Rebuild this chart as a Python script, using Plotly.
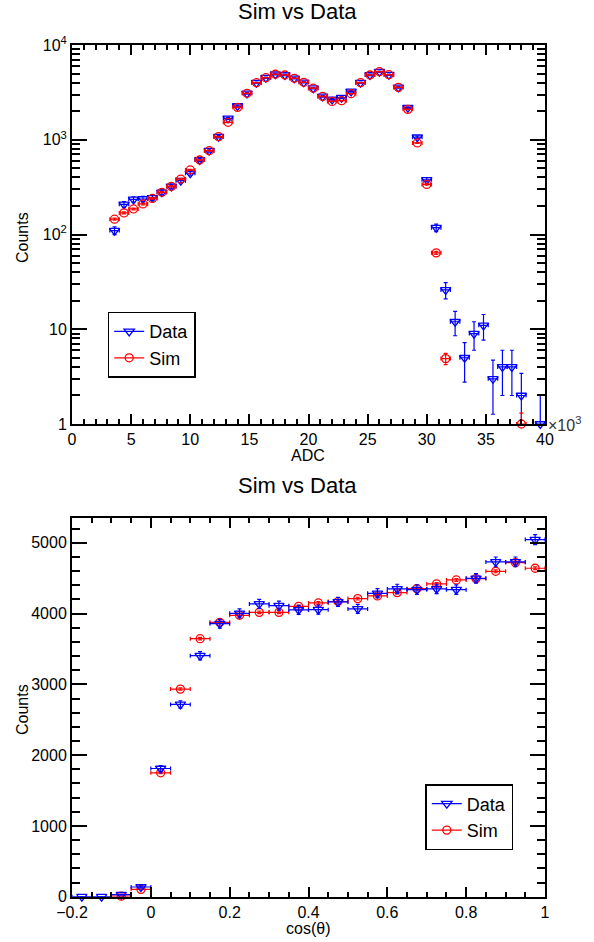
import numpy as np
import plotly.graph_objects as go

# ---------------- data ----------------
adc_centers = [3600, 4400, 5200, 6000, 6800, 7600, 8400, 9200, 10000, 10800,
               11600, 12400, 13200, 14000, 14800, 15600, 16400, 17200, 18000, 18800,
               19600, 20400, 21200, 22000, 22800, 23600, 24400, 25200, 26000, 26800,
               27600, 28400, 29200, 30000, 30800, 31600, 32400, 33200, 34000, 34800,
               35600, 36400, 37200, 38000, 38800, 39600]
adc_data = [110, 208, 235, 237, 244, 279, 322, 370, 443, 611,
            767, 1078, 1684, 2270, 3090, 4000, 4518, 4910, 4825, 4454,
            4040, 3500, 2866, 2670, 2780, 3245, 4000, 4825, 5224, 4857,
            3572, 2178, 1062, 378, 118, 26, 12, 5, 9, 11,
            3, 4, 4, 2, None, 1]
adc_sim = [145, 169, 186, 210, 240, 279, 322, 385, 480, 611,
           767, 1078, 1527, 2198, 3090, 4000, 4518, 4910, 4825, 4454,
           4040, 3500, 2866, 2540, 2583, 3062, 4000, 4825, 5224, 4857,
           3572, 2094, 925, 338, 64, 4.9, None, None, None, None,
           None, None, None, 1, None, None]
adc_halfbin = 400

cos_centers = [-0.175, -0.125, -0.075, -0.025, 0.025, 0.075, 0.125, 0.175,
               0.225, 0.275, 0.325, 0.375, 0.425, 0.475, 0.525, 0.575,
               0.625, 0.675, 0.725, 0.775, 0.825, 0.875, 0.925, 0.975]
cos_data = [0, 0, 30, 137, 1811, 2716, 3405, 3857, 4003, 4136, 4112, 4051,
            4055, 4164, 4065, 4286, 4348, 4338, 4348, 4338, 4498, 4730, 4730, 5045]
cos_sim = [None, None, 8, 104, 1750, 2933, 3645, 3876, 3975, 4017, 4017, 4102,
           4150, 4170, 4211, 4249, 4296, 4352, 4419, 4475, 4494, 4597, 4720, 4640]
cos_halfbin = 0.025
sim_weight = 0.09

x_ticks_adc = [0, 5000, 10000, 15000, 20000, 25000, 30000, 35000, 40000]
x_ticktext_adc = ['0', '5', '10', '15', '20', '25', '30', '35', '40']
y_ticks_log = [1, 10, 100, 1000, 10000]
y_ticktext_log = ['1', '10', '10<sup>2</sup>', '10<sup>3</sup>', '10<sup>4</sup>']


def data_err(vals):
    return [None if v is None else float(np.sqrt(v)) for v in vals]


def sim_err(vals):
    return [None if v is None else float(np.sqrt(v * sim_weight)) for v in vals]


BLUE = '#0000ff'
RED = '#ff0000'
FONT = 'Liberation Sans, Arial, sans-serif'
EW = 1.2   # error bar thickness
ML = 1.3   # marker outline width

fig = go.Figure()

# ---------- top panel ----------
fig.add_trace(go.Scatter(
    x=adc_centers, y=adc_data, mode='markers', xaxis='x', yaxis='y',
    marker=dict(symbol='triangle-down-open', size=9, color=BLUE, line=dict(width=ML, color=BLUE)),
    error_y=dict(type='data', array=data_err(adc_data), color=BLUE, thickness=EW, width=2),
    error_x=dict(type='constant', value=adc_halfbin, color=BLUE, thickness=EW, width=2),
    showlegend=False, cliponaxis=False))
fig.add_trace(go.Scatter(
    x=adc_centers, y=adc_sim, mode='markers', xaxis='x', yaxis='y',
    marker=dict(symbol='circle-open', size=8, color=RED, line=dict(width=ML, color=RED)),
    error_y=dict(type='data', array=sim_err(adc_sim), color=RED, thickness=EW, width=2),
    error_x=dict(type='constant', value=adc_halfbin, color=RED, thickness=EW, width=2),
    showlegend=False, cliponaxis=False))

# ---------- bottom panel ----------
fig.add_trace(go.Scatter(
    x=cos_centers, y=cos_sim, mode='markers', xaxis='x2', yaxis='y2',
    marker=dict(symbol='circle-open', size=8, color=RED, line=dict(width=ML, color=RED)),
    error_y=dict(type='data', array=sim_err(cos_sim), color=RED, thickness=EW, width=2),
    error_x=dict(type='constant', value=cos_halfbin, color=RED, thickness=EW, width=2),
    showlegend=False, cliponaxis=False))
fig.add_trace(go.Scatter(
    x=cos_centers, y=cos_data, mode='markers', xaxis='x2', yaxis='y2',
    marker=dict(symbol='triangle-down-open', size=9, color=BLUE, line=dict(width=ML, color=BLUE)),
    error_y=dict(type='data', array=data_err(cos_data), color=BLUE, thickness=EW, width=2),
    error_x=dict(type='constant', value=cos_halfbin, color=BLUE, thickness=EW, width=2),
    showlegend=False, cliponaxis=False))

# legend entries
for lg, xa, ya in [('legend', 'x', 'y'), ('legend2', 'x2', 'y2')]:
    fig.add_trace(go.Scatter(x=[None], y=[None], mode='lines+markers', name='Data',
                             xaxis=xa, yaxis=ya, legend=lg,
                             line=dict(color=BLUE, width=EW),
                             marker=dict(symbol='triangle-down-open', size=9, color=BLUE,
                                         line=dict(width=ML, color=BLUE))))
    fig.add_trace(go.Scatter(x=[None], y=[None], mode='lines+markers', name='Sim',
                             xaxis=xa, yaxis=ya, legend=lg,
                             line=dict(color=RED, width=EW),
                             marker=dict(symbol='circle-open', size=8, color=RED,
                                         line=dict(width=ML, color=RED))))

W, H = 594, 942
xd = [72 / W, 545 / W]
top_dom = [(H - 424) / H, (H - 45) / H]
bot_dom = [(H - 896.7) / H, (H - 518) / H]

axis_common = dict(showline=True, linecolor='black', linewidth=2, mirror='allticks',
                   ticks='inside', tickcolor='black', tickwidth=1.5, showgrid=False,
                   zeroline=False, automargin=False,
                   tickfont=dict(family=FONT, size=16, color='black'))

minor_log = [m * 10 ** e for e in range(0, 4) for m in range(2, 10)]

fig.update_layout(
    template='none',
    width=W, height=H, margin=dict(l=0, r=0, t=0, b=0, autoexpand=False),
    paper_bgcolor='white', plot_bgcolor='white',
    font=dict(family=FONT, color='black'),
    xaxis=dict(domain=xd, anchor='y', range=[0, 40000], tickmode='array',
               tickvals=x_ticks_adc, ticktext=x_ticktext_adc, ticklen=10,
               minor=dict(dtick=1000, tick0=0, ticks='inside', ticklen=5, tickwidth=1.5,
                          tickcolor='black', showgrid=False),
               **axis_common),
    yaxis=dict(domain=top_dom, anchor='x', type='log', range=[0, 4], tickmode='array',
               tickvals=y_ticks_log, ticktext=y_ticktext_log, ticklen=15,
               minor=dict(tickmode='array', tickvals=minor_log, ticks='inside', ticklen=8,
                          tickwidth=1.5, tickcolor='black', showgrid=False),
               **axis_common),
    xaxis2=dict(domain=xd, anchor='y2', range=[-0.2, 1.0], dtick=0.2, tick0=0, ticklen=10,
                tickformat='~g',
                minor=dict(dtick=0.05, tick0=0, ticks='inside', ticklen=5, tickwidth=1.5,
                           tickcolor='black', showgrid=False),
                **axis_common),
    yaxis2=dict(domain=bot_dom, anchor='x2', range=[0, 5350], dtick=1000, tick0=0, ticklen=15,
                minor=dict(dtick=200, tick0=0, ticks='inside', ticklen=8, tickwidth=1.5,
                           tickcolor='black', showgrid=False),
                **axis_common),
    legend=dict(x=107.7 / W, y=(H - 311.7) / H, xanchor='left', yanchor='top',
                bordercolor='black', borderwidth=1.5, bgcolor='white',
                font=dict(family=FONT, size=18, color='black'), itemwidth=30),
    legend2=dict(x=425.3 / W, y=(H - 784) / H, xanchor='left', yanchor='top',
                 bordercolor='black', borderwidth=1.5, bgcolor='white',
                 font=dict(family=FONT, size=18, color='black'), itemwidth=30),
    annotations=[
        dict(text='Sim vs Data', x=297 / W, y=(H - 12) / H, xref='paper', yref='paper',
             showarrow=False, font=dict(family=FONT, size=22), xanchor='center', yanchor='middle'),
        dict(text='Sim vs Data', x=297 / W, y=(H - 485) / H, xref='paper', yref='paper',
             showarrow=False, font=dict(family=FONT, size=22), xanchor='center', yanchor='middle'),
        dict(text='Counts', x=22 / W, y=(H - 238) / H, xref='paper', yref='paper',
             showarrow=False, textangle=-90, font=dict(family=FONT, size=16),
             xanchor='center', yanchor='middle'),
        dict(text='Counts', x=22 / W, y=(H - 710) / H, xref='paper', yref='paper',
             showarrow=False, textangle=-90, font=dict(family=FONT, size=16),
             xanchor='center', yanchor='middle'),
        dict(text='ADC', x=308 / W, y=(H - 455) / H, xref='paper', yref='paper',
             showarrow=False, font=dict(family=FONT, size=16), xanchor='center', yanchor='middle'),
        dict(text='cos(θ)', x=308 / W, y=(H - 928) / H, xref='paper', yref='paper',
             showarrow=False, font=dict(family=FONT, size=16), xanchor='center', yanchor='middle'),
        dict(text='×10<sup>3</sup>', x=546 / W, y=(H - 424) / H, xref='paper', yref='paper',
             showarrow=False, font=dict(family=FONT, size=16, color='#333333'),
             xanchor='left', yanchor='middle'),
    ],
)

fig.write_html('out.html')
